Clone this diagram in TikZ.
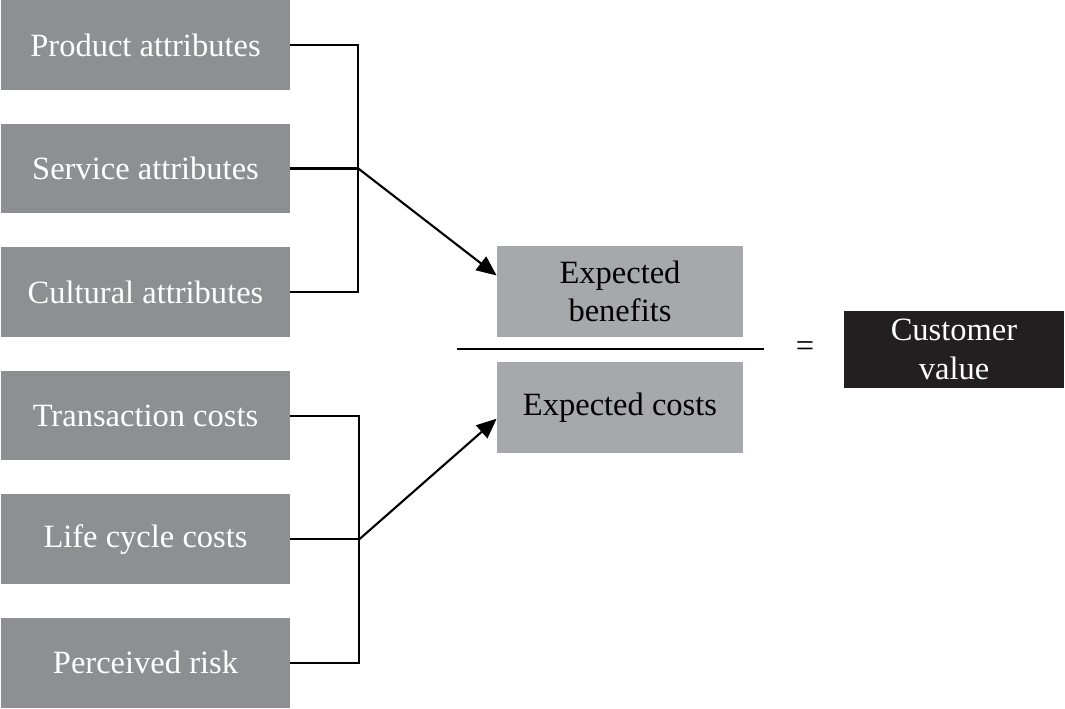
\documentclass[tikz,border=0pt]{standalone}
\usepackage{fontspec}
\setmainfont{Liberation Serif}
\usepackage{xcolor}
\usetikzlibrary{arrows.meta,positioning,calc}

\definecolor{attrgray}{HTML}{8E8F93}
\definecolor{midgray}{HTML}{A7A8AB}
\definecolor{valblack}{HTML}{231F20}

\begin{document}
\begin{tikzpicture}[
  node distance=6.67mm and 7mm,
  every node/.style={font=\fontsize{18.5}{22}\selectfont},
  attr/.style={fill=attrgray,text=white,minimum width=57.8mm,minimum height=17.9mm,align=center,inner sep=0pt},
  mid/.style={fill=midgray,text=black,minimum width=49.2mm,minimum height=18.1mm,align=center,inner sep=0pt},
  res/.style={fill=valblack,text=white,minimum width=44mm,minimum height=15.4mm,align=center,inner sep=0pt},
  arr/.style={-{Triangle[length=4mm,width=3.4mm]},line width=1.2pt},
  conn/.style={line width=1.2pt}
]
\useasboundingbox (0,0) rectangle (21.3,-14.18);

% benefit side
\node[attr] (prod) at (2.91,-0.90) {Product attributes};
\node[attr,below=of prod] (serv) {Service attributes};
\node[attr,below=of serv] (cult) {Cultural attributes};
% cost side
\node[attr,below=of cult] (trans) {Transaction costs};
\node[attr,below=of trans] (life) {Life cycle costs};
\node[attr,below=of life] (risk) {Perceived risk};

\node[mid] (ben) at (12.40,-5.83) {Expected\\benefits};
\node[mid,below=5mm of ben] (cost) {Expected costs};
\node (eq) at (16.10,-6.98) {=};
\node[res] (val) at (19.08,-6.99) {Customer\\value};

\coordinate (jtop) at ($(serv.east)+(1.36,0)$);
\coordinate (jbot) at ($(life.east)+(1.38,0)$);
\coordinate (barl) at (9.14,-6.98);
\coordinate (barr) at (15.28,-6.98);

\draw[conn] (prod.east) -| (jtop) |- (cult.east);
\draw[conn] (serv.east) -- (jtop);
\draw[arr] (jtop) -- ($(ben.west)+(0,0.32)$);
\draw[conn] (trans.east) -| (jbot) |- (risk.east);
\draw[conn] (life.east) -- (jbot);
\draw[arr] (jbot) -- ($(cost.west)+(0,-0.22)$);
\draw[conn] (barl) -- (barr);
\end{tikzpicture}
\end{document}
